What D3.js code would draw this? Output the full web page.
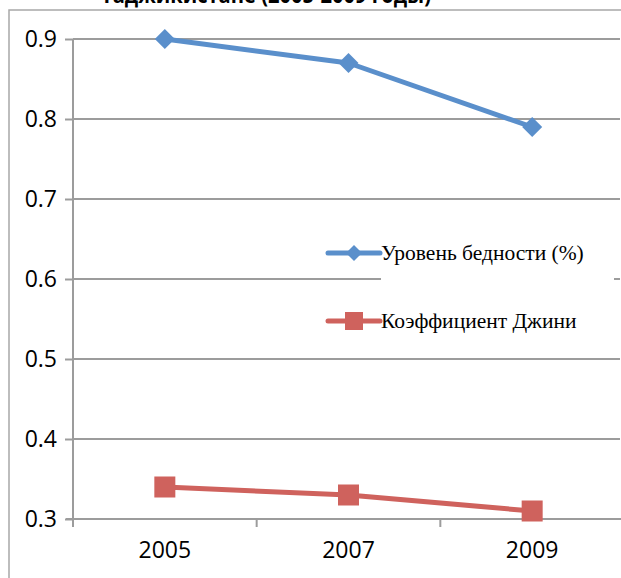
<!DOCTYPE html>
<html><head><meta charset="utf-8">
<script src="https://cdn.jsdelivr.net/npm/d3@7"></script>
<style>html,body{margin:0;padding:0;background:#fff;overflow:hidden}</style>
</head><body><svg id="c" width="621" height="578"></svg>
<script>
const years = ["2005", "2007", "2009"];
const poverty = [0.90, 0.87, 0.79];
const gini = [0.34, 0.33, 0.31];
const yTicks = [0.3, 0.4, 0.5, 0.6, 0.7, 0.8, 0.9];
const seriesNames = ["Уровень бедности (%)", "Коэффициент Джини"];
const title = "Таджикистане (2005-2009 годы)";

const svg = d3.select("#c");
const blue = "#5A8FCB", red = "#CF625D", grid = "#9C9C9C";
const x = d3.scaleBand().domain(years).range([73, 624]);
const y = d3.scaleLinear().domain([0.3, 0.9]).range([519, 39]);

// outer border
svg.append("path").attr("d", "M9,578V10H621").attr("fill", "none").attr("stroke", "#A8A8A8").attr("stroke-width", 1.5);

// title (clipped at top, as in the reference)
svg.append("text").attr("x", 266).attr("y", 2.5).attr("text-anchor", "middle")
  .attr("font-family", "Open Sans, sans-serif").attr("font-weight", "bold").attr("font-size", 23)
  .attr("textLength", 330).attr("lengthAdjust", "spacingAndGlyphs")
  .text(title);

// gridlines
svg.append("g").selectAll("line").data(yTicks.slice(1)).join("line")
  .attr("x1", 73).attr("x2", 620).attr("y1", d => y(d)).attr("y2", d => y(d))
  .attr("stroke", grid).attr("stroke-width", 2);

// y axis
const ya = svg.append("g").attr("transform", "translate(73,0)")
  .call(d3.axisLeft(y).tickValues(yTicks).tickFormat(d3.format(".1f")).tickSize(8).tickPadding(8));
ya.select(".domain").attr("stroke", grid).attr("stroke-width", 2).attr("d", "M0,39V527");
ya.selectAll(".tick line").attr("stroke", grid).attr("stroke-width", 2);
ya.selectAll("text").attr("font-family", "Open Sans, sans-serif").attr("font-size", 23).attr("fill", "#000");

// x axis
const xa = svg.append("g").attr("transform", "translate(0,519)")
  .call(d3.axisBottom(x).tickSize(0).tickPadding(23));
xa.select(".domain").attr("stroke", grid).attr("stroke-width", 2).attr("d", "M66,0H624");
xa.selectAll("text").attr("font-family", "Open Sans, sans-serif").attr("font-size", 23).attr("fill", "#000");
svg.append("g").selectAll("line").data(years.slice(1)).join("line")
  .attr("x1", d => x(d)).attr("x2", d => x(d)).attr("y1", 519).attr("y2", 527)
  .attr("stroke", grid).attr("stroke-width", 2);

// legend background
svg.append("rect").attr("x", 381).attr("y", 228).attr("width", 233).attr("height", 118).attr("fill", "#fff");

const line = d3.line().x((d, i) => x(years[i]) + x.bandwidth() / 2).y(d => y(d));
svg.append("path").datum(poverty).attr("d", line).attr("fill", "none").attr("stroke", blue).attr("stroke-width", 5).attr("stroke-linejoin", "round");
svg.append("path").datum(gini).attr("d", line).attr("fill", "none").attr("stroke", red).attr("stroke-width", 5).attr("stroke-linejoin", "round");

const diamond = (cx, cy, r) => `M${cx},${cy - r}L${cx + r},${cy}L${cx},${cy + r}L${cx - r},${cy}Z`;
svg.append("g").selectAll("path").data(poverty).join("path")
  .attr("d", (d, i) => diamond(x(years[i]) + x.bandwidth() / 2, y(d), 10)).attr("fill", blue);
svg.append("g").selectAll("rect").data(gini).join("rect")
  .attr("x", (d, i) => x(years[i]) + x.bandwidth() / 2 - 10.5).attr("y", d => y(d) - 10.5)
  .attr("width", 21).attr("height", 21).attr("fill", red);

// legend
const leg = [{c: blue, y: 253, m: "d"}, {c: red, y: 321, m: "s"}];
leg.forEach((l, i) => {
  svg.append("line").attr("x1", 328).attr("x2", 380).attr("y1", l.y).attr("y2", l.y)
    .attr("stroke", l.c).attr("stroke-width", 5).attr("stroke-linecap", "round");
  if (l.m === "d") svg.append("path").attr("d", diamond(354, l.y, 8)).attr("fill", l.c);
  else svg.append("rect").attr("x", 345).attr("y", l.y - 9).attr("width", 18).attr("height", 18).attr("fill", l.c);
  svg.append("text").attr("x", 381).attr("y", l.y + 7).attr("font-family", "Liberation Serif, serif")
    .attr("font-size", 21.5).attr("fill", "#000").text(seriesNames[i]);
});
</script></body></html>
